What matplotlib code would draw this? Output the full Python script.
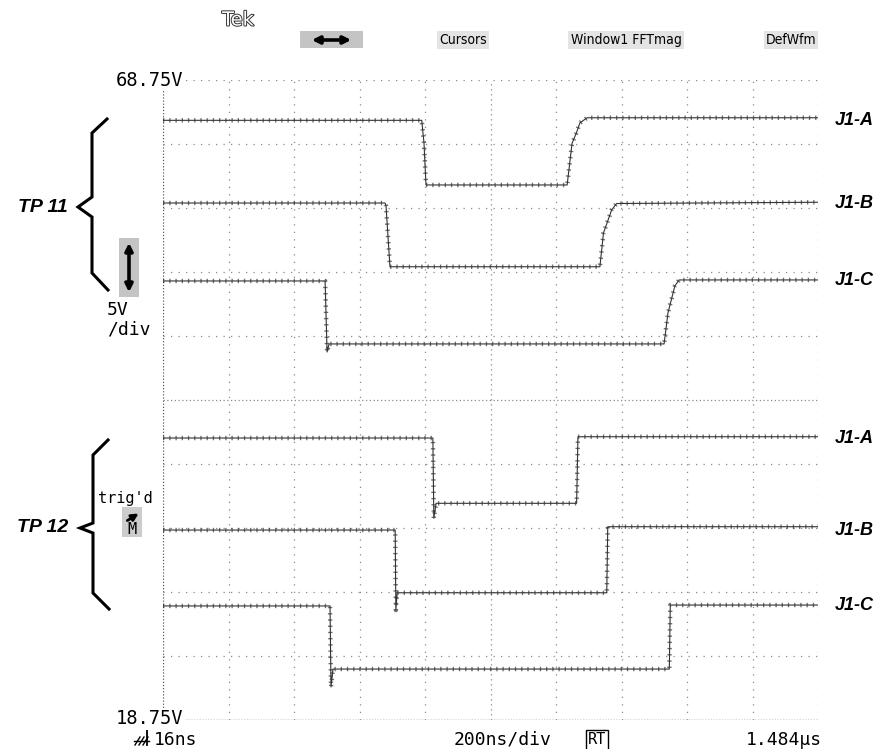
import matplotlib
matplotlib.use('Agg')
import matplotlib.pyplot as plt
import matplotlib.transforms as mtransforms
import matplotlib.patheffects as pe
from matplotlib.patches import Rectangle

# scope settings
t_span = [0, 2000]          # ns, 200 ns/div
v_span = [18.75, 68.75]     # V, 5 V/div

# TP 11 traces (time ns, volts)
tp11_a_t = [0, 790, 797, 803, 1234, 1249, 1262, 1273, 1295, 2000]
tp11_a_v = [65.6, 65.6, 63.8, 60.55, 60.55, 63.8, 64.6, 65.4, 65.8, 65.8]
tp11_b_t = [0, 678, 681, 693, 1334, 1345, 1370, 1385, 2000]
tp11_b_v = [59.14, 59.14, 58.9, 54.16, 54.16, 56.8, 58.6, 59.1, 59.2]
tp11_c_t = [0, 495, 501, 507, 1530, 1542, 1563, 1576, 2000]
tp11_c_v = [53.05, 53.05, 47.5, 48.13, 48.13, 50.57, 52.66, 53.13, 53.13]

# TP 12 traces
tp12_a_t = [0, 824, 827, 834, 1263, 1267, 2000]
tp12_a_v = [40.78, 40.78, 34.51, 35.68, 35.68, 40.88, 40.88]
tp12_b_t = [0, 709, 711, 715, 1355, 1358, 2000]
tp12_b_v = [33.59, 33.59, 27.34, 28.69, 28.69, 33.85, 33.85]
tp12_c_t = [0, 510, 513, 519, 1546, 1549, 2000]
tp12_c_v = [27.66, 27.66, 21.33, 22.73, 22.73, 27.73, 27.73]

trace_names = ['J1-A', 'J1-B', 'J1-C']
traces = [(tp11_a_t, tp11_a_v), (tp11_b_t, tp11_b_v), (tp11_c_t, tp11_c_v),
          (tp12_a_t, tp12_a_v), (tp12_b_t, tp12_b_v), (tp12_c_t, tp12_c_v)]

W, H = 885, 749
fig = plt.figure(figsize=(W / 100, H / 100), dpi=100)
fig.patch.set_facecolor('white')

# graticule area in pixels: x 163..818, y 80..720 (from top)
ax = fig.add_axes([163 / W, (H - 720) / H, 655 / W, 640 / H])
ax.set_xlim(*t_span)
ax.set_ylim(*v_span)
ax.axis('off')

gcol = '#8a8a8a'
for k in range(11):
    t = t_span[0] + k * 200
    if k == 0:
        ax.axvline(t, color='#555555', lw=0.9, ls=(0, (1, 1.5)))
    elif k == 5:
        ax.axvline(t, color=gcol, lw=0.9, ls=(0, (1, 3)))
    else:
        ax.axvline(t, color=gcol, lw=0.9, ls=(0, (1, 5)))
for k in range(11):
    v = v_span[0] + k * 5
    if k == 0:
        ax.axhline(v, color='#444444', lw=1.0, ls=(0, (1, 1.0)))
    elif k == 5:
        ax.axhline(v, color=gcol, lw=0.9, ls=(0, (1, 2)))
    else:
        ax.axhline(v, color=gcol, lw=0.9, ls=(0, (1, 5)))

# scope traces: thin core plus a stippled band for the dot-display look
for t, v in traces:
    ax.plot(t, v, color='#333333', lw=0.8, zorder=3)
    ax.plot(t, v, color='#333333', lw=3.2, ls=(0, (0.3, 1.1)), alpha=0.7,
            dash_capstyle='butt', zorder=3)

lab_tr = mtransforms.blended_transform_factory(ax.transAxes, ax.transData)
for i, (t, v) in enumerate(traces):
    ax.text(1.026, v[0], trace_names[i % 3], transform=lab_tr, ha='left', va='center',
            fontsize=13, fontweight='bold', fontstyle='italic',
            family='Liberation Sans', clip_on=False)

# overlay in pixel coordinates for the scope annotations
ov = fig.add_axes([0, 0, 1, 1])
ov.set_xlim(0, W)
ov.set_ylim(H, 0)
ov.axis('off')
ov.patch.set_alpha(0)

mono = 'DejaVu Sans Mono'

ov.text(238, 20, 'Tek', ha='center', va='center', fontsize=14, color='white',
        family='DejaVu Sans',
        path_effects=[pe.withStroke(linewidth=1.4, foreground='#333333')])

ov.add_patch(Rectangle((300, 31), 63, 17, facecolor='#c4c4c4', edgecolor='none'))
ov.annotate('', xy=(354, 40), xytext=(309, 40),
            arrowprops=dict(arrowstyle='<|-|>', lw=2.6, color='black', mutation_scale=11))
menu = [('Cursors', 463), ('Window1 FFTmag', 626), ('DefWfm', 791)]
for txt, x in menu:
    ov.text(x, 40, txt, ha='center', va='center', fontsize=10, family='DejaVu Sans',
            fontstretch='condensed',
            bbox=dict(boxstyle='square,pad=0.15', facecolor='#e4e4e4', edgecolor='none'))

ov.text(183, 80, '68.75V', ha='right', va='center', fontsize=13.5, family=mono,
        bbox=dict(boxstyle='square,pad=0.1', facecolor='white', edgecolor='none'))
ov.text(183, 719, '18.75V', ha='right', va='center', fontsize=13.5, family=mono,
        bbox=dict(boxstyle='square,pad=0.1', facecolor='white', edgecolor='none'))

# volts/div indicator
ov.add_patch(Rectangle((119, 238), 20, 59, facecolor='#c4c4c4', edgecolor='none'))
ov.annotate('', xy=(129, 240), xytext=(129, 295),
            arrowprops=dict(arrowstyle='<|-|>', lw=2.6, color='black', mutation_scale=11))
ov.text(107, 310, '5V', ha='left', va='center', fontsize=13, family=mono)
ov.text(107, 330, '/div', ha='left', va='center', fontsize=13, family=mono)

# trigger indicator
ov.text(125, 499, "trig'd", ha='center', va='center', fontsize=11, family=mono)
ov.add_patch(Rectangle((122, 507), 20, 30, facecolor='#cccccc', edgecolor='none'))
ov.annotate('', xy=(141, 512), xytext=(125, 522),
            arrowprops=dict(arrowstyle='-|>', lw=2.0, color='black', mutation_scale=10))
ov.text(132, 530, 'M', ha='center', va='center', fontsize=11, family=mono)

# braces and group labels
brace11_x = [107, 92, 92, 78, 92, 92, 108]
brace11_y = [119, 133, 197, 207, 217, 273, 290]
brace12_x = [108, 93, 93, 80, 93, 93, 109]
brace12_y = [440, 455, 523, 528, 533, 593, 609]
ov.plot(brace11_x, brace11_y, color='black', lw=2.2, solid_joinstyle='miter')
ov.plot(brace12_x, brace12_y, color='black', lw=2.2, solid_joinstyle='miter')
ov.text(68, 207, 'TP 11', ha='right', va='center', fontsize=14, fontweight='bold',
        fontstyle='italic', family='Liberation Sans')
ov.text(68, 528, 'TP 12', ha='right', va='center', fontsize=14, fontweight='bold',
        fontstyle='italic', family='Liberation Sans')

# bottom status line
ov.plot([147, 147], [727, 745], color='black', lw=1.3)
ov.plot([147, 153], [727, 727], color='black', lw=1.3)
for dx in [0, 4, 8]:
    ov.plot([135 + dx, 140 + dx], [745, 737], color='black', lw=1.0)
ov.plot([134, 149], [741, 741], color='black', lw=1.0)
ov.text(154, 740, '16ns', ha='left', va='center', fontsize=13, family=mono)
ov.text(503, 740, '200ns/div', ha='center', va='center', fontsize=13, family=mono)
ov.text(597, 740, 'RT', ha='center', va='center', fontsize=11, family=mono,
        bbox=dict(boxstyle='square,pad=0.15', facecolor='white', edgecolor='black', lw=1))
ov.text(822, 740, '1.484\u00b5s', ha='right', va='center', fontsize=13, family=mono)

fig.savefig('out.png', dpi=100)
